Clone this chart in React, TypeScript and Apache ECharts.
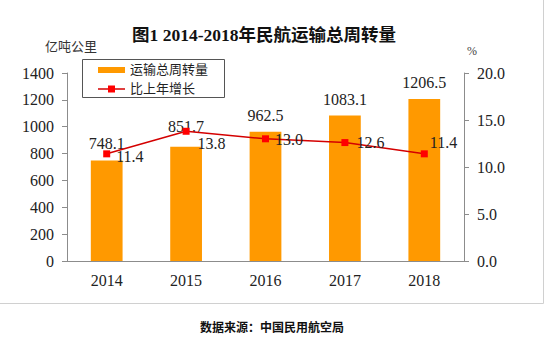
import React, { useEffect, useRef } from "react";
import * as echarts from "echarts";

const years = ["2014", "2015", "2016", "2017", "2018"];
const turnover = [748.1, 851.7, 962.5, 1083.1, 1206.5];
const growth = [11.4, 13.8, 13.0, 12.6, 11.4];
const barName = "运输总周转量";
const lineName = "比上年增长";
const titleText = "图1 2014-2018年民航运输总周转量";
const leftUnit = "亿吨公里";
const rightUnit = "%";
const sourceText = "数据来源：中国民用航空局";

const SERIF = "'Liberation Serif', 'DejaVu Serif', 'Noto Sans CJK SC', serif";
const CJK = "'Noto Sans CJK SC', sans-serif";

export default function App() {
  const ref = useRef<HTMLDivElement>(null);
  useEffect(() => {
    document.body.style.margin = "0";
    const chart = echarts.init(ref.current!, null, { renderer: "svg" });
    const lineLabelOffsets: [number, number][] = [
      [0, 3],
      [2, 12],
      [0, 1],
      [2, 0],
      [-4, -11],
    ];
    chart.setOption({
      animation: false,
      backgroundColor: "#fff",
      grid: { left: 67, right: 82, top: 73, bottom: 76 },
      xAxis: {
        type: "category",
        data: years,
        axisLine: { lineStyle: { color: "#8c8c8c", width: 1 } },
        axisTick: { inside: true, length: 5, lineStyle: { color: "#333" } },
        axisLabel: { fontFamily: SERIF, fontSize: 16, color: "#222", margin: 11 },
      },
      yAxis: [
        {
          type: "value",
          min: 0,
          max: 1400,
          interval: 200,
          splitLine: { show: false },
          axisLine: { show: true, lineStyle: { color: "#8c8c8c" } },
          axisTick: { show: true, length: 5, lineStyle: { color: "#8c8c8c" } },
          axisLabel: {
            fontFamily: SERIF,
            fontSize: 16,
            color: "#222",
            margin: 13,
            formatter: (v: number) => String(v),
          },
        },
        {
          type: "value",
          min: 0,
          max: 20,
          interval: 5,
          splitLine: { show: false },
          axisLine: { show: true, lineStyle: { color: "#8c8c8c" } },
          axisTick: { show: true, length: 5, lineStyle: { color: "#8c8c8c" } },
          axisLabel: {
            fontFamily: SERIF,
            fontSize: 16,
            color: "#222",
            margin: 13,
            formatter: (v: number) => v.toFixed(1),
          },
        },
      ],
      series: [
        {
          name: barName,
          type: "bar",
          data: turnover.map((v, i) => ({
            value: v,
            label: i === 1 ? { distance: 12 } : i === 0 ? { distance: 9 } : undefined,
          })),
          barWidth: "40%",
          itemStyle: { color: "#FF9900" },
          label: {
            show: true,
            position: "top",
            distance: 8,
            fontFamily: SERIF,
            fontSize: 16,
            color: "#222",
            formatter: (p: any) => p.value.toFixed(1),
          },
        },
        {
          name: lineName,
          type: "line",
          yAxisIndex: 1,
          data: growth.map((v, i) => ({
            value: v,
            label: { offset: lineLabelOffsets[i] },
          })),
          symbol: "rect",
          symbolSize: 7,
          lineStyle: { color: "#D40000", width: 1.5 },
          itemStyle: { color: "#FF0000" },
          label: {
            show: true,
            position: "right",
            distance: 6,
            fontFamily: SERIF,
            fontSize: 16,
            color: "#222",
            formatter: (p: any) => p.value.toFixed(1),
          },
        },
      ],
      graphic: [
        {
          type: "text",
          x: 264,
          y: 35,
          style: {
            text: titleText,
            fontFamily: SERIF,
            fontSize: 17.5,
            fontWeight: "bold",
            fill: "#111",
            align: "center",
            verticalAlign: "middle",
          },
        },
        {
          type: "text",
          x: 45,
          y: 39,
          style: { text: leftUnit, fontFamily: CJK, fontSize: 13, fill: "#333" },
        },
        {
          type: "text",
          x: 467,
          y: 45,
          style: { text: rightUnit, fontFamily: SERIF, fontSize: 12, fill: "#444" },
        },
        {
          type: "rect",
          shape: { x: 82.5, y: 59.5, width: 142, height: 38 },
          style: { fill: "#fff", stroke: "#555", lineWidth: 1 },
          z: 100,
        },
        {
          type: "rect",
          shape: { x: 98, y: 67, width: 27, height: 6 },
          style: { fill: "#FF9900" },
          z: 101,
        },
        {
          type: "text",
          x: 130,
          y: 62,
          style: { text: barName, fontFamily: CJK, fontSize: 13, fill: "#222" },
          z: 101,
        },
        {
          type: "line",
          shape: { x1: 98, y1: 89, x2: 125, y2: 89 },
          style: { stroke: "#D40000", lineWidth: 1.5 },
          z: 101,
        },
        {
          type: "rect",
          shape: { x: 108, y: 85.5, width: 7, height: 7 },
          style: { fill: "#FF0000" },
          z: 102,
        },
        {
          type: "text",
          x: 130,
          y: 81,
          style: { text: lineName, fontFamily: CJK, fontSize: 13, fill: "#222" },
          z: 101,
        },
        {
          type: "line",
          shape: { x1: 0, y1: 303.5, x2: 543.5, y2: 303.5 },
          style: { stroke: "#d0d0d0", lineWidth: 1 },
        },
        {
          type: "line",
          shape: { x1: 543.5, y1: 0, x2: 543.5, y2: 303.5 },
          style: { stroke: "#d0d0d0", lineWidth: 1 },
        },
        {
          type: "text",
          x: 272,
          y: 326,
          style: {
            text: sourceText,
            fontFamily: CJK,
            fontSize: 12,
            fontWeight: "bold",
            fill: "#111",
            align: "center",
            verticalAlign: "middle",
          },
        },
      ],
    });
    return () => chart.dispose();
  }, []);
  return (
    <div
      ref={ref}
      style={{ position: "absolute", left: 0, top: 0, width: 546, height: 337 }}
    />
  );
}
